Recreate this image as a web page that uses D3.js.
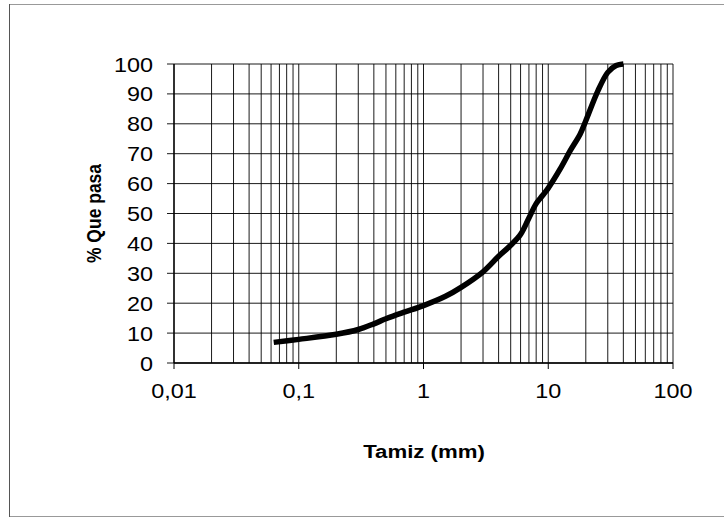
<!DOCTYPE html>
<html>
<head>
<meta charset="utf-8">
<script src="https://cdn.jsdelivr.net/npm/d3@7"></script>
<style>
  body { margin: 0; background: #fff; }
  svg { display: block; font-family: "Liberation Sans", Arial, sans-serif; }
</style>
</head>
<body>
<svg width="724" height="518"></svg>
<script>
// sieve opening (mm) and % passing
const sieve   = [0.063, 0.1, 0.2, 0.3, 0.4, 0.5, 0.7, 1, 1.5, 2, 3, 4, 5, 6, 7, 8, 9, 10, 12.5, 15, 18, 20, 25, 30, 35, 40];
const passing = [6.9, 7.9, 9.6, 11.2, 13.1, 14.8, 17, 19.2, 22.3, 25.3, 30.5, 35.7, 39.4, 43, 48.5, 53.3, 56, 58.5, 65, 71, 76.5, 81, 91, 97.2, 99.5, 100];

const xTicks = [0.01, 0.1, 1, 10, 100];
const xTickLabels = ['0,01', '0,1', '1', '10', '100'];
const yTicks = d3.range(0, 101, 10);

const svg = d3.select('svg');
const stretch = 1.2; // the reference text is a bit wide

const x = d3.scaleLog().domain([0.01, 100]).range([174, 673]);
const y = d3.scaleLinear().domain([0, 100]).range([363, 64]);

// outer frame
svg.append('line').attr('x1', 9.5).attr('x2', 724).attr('y1', 4.5).attr('y2', 4.5).attr('stroke', '#999');
svg.append('line').attr('x1', 9.5).attr('x2', 724).attr('y1', 516.5).attr('y2', 516.5).attr('stroke', '#999');
svg.append('line').attr('x1', 9.5).attr('x2', 9.5).attr('y1', 4).attr('y2', 517).attr('stroke', '#555');

// vertical grid: every 1..9 of each decade
let minor = [];
xTicks.slice(0, -1).forEach(d => {
  for (let k = 1; k < 10; k++) minor.push(d * k);
});
minor.push(100);

svg.append('g').selectAll('line')
  .data(minor)
  .join('line')
  .attr('x1', d => x(d)).attr('x2', d => x(d))
  .attr('y1', y(100)).attr('y2', y(0))
  .attr('stroke', '#000').attr('stroke-width', 0.9);

// horizontal grid
svg.append('g').selectAll('line')
  .data(yTicks)
  .join('line')
  .attr('x1', x(0.01) - 7).attr('x2', x(100))
  .attr('y1', d => y(d)).attr('y2', d => y(d))
  .attr('stroke', '#000').attr('stroke-width', 0.9);

// axes lines
svg.append('line').attr('x1', x(0.01)).attr('x2', x(0.01)).attr('y1', y(100)).attr('y2', y(0))
  .attr('stroke', '#000').attr('stroke-width', 1.3);
svg.append('line').attr('x1', x(0.01)).attr('x2', x(100)).attr('y1', y(0)).attr('y2', y(0))
  .attr('stroke', '#000').attr('stroke-width', 1.3);

// x ticks
svg.append('g').selectAll('line')
  .data(xTicks)
  .join('line')
  .attr('x1', d => x(d)).attr('x2', d => x(d))
  .attr('y1', y(0)).attr('y2', y(0) + 6)
  .attr('stroke', '#000');

// tick labels
svg.append('g').selectAll('text')
  .data(xTicks)
  .join('text')
  .attr('transform', d => `translate(${x(d)},398) scale(${stretch},1)`)
  .attr('text-anchor', 'middle')
  .attr('font-size', 19.5)
  .text((d, i) => xTickLabels[i]);

svg.append('g').selectAll('text')
  .data(yTicks)
  .join('text')
  .attr('transform', d => `translate(153,${y(d) + 7.5}) scale(${stretch},1)`)
  .attr('text-anchor', 'end')
  .attr('font-size', 19.5)
  .text(d => d);

// axis titles
svg.append('text')
  .attr('transform', `translate(424,458) scale(${stretch},1)`)
  .attr('text-anchor', 'middle')
  .attr('font-size', 18.5)
  .attr('font-weight', 'bold')
  .text('Tamiz (mm)');

svg.append('text')
  .attr('transform', 'translate(101,213.5) rotate(-90) scale(1,1.2)')
  .attr('text-anchor', 'middle')
  .attr('font-size', 17.5)
  .attr('font-weight', 'bold')
  .text('% Que pasa');

// grading curve
const line = d3.line()
  .x((d, i) => x(sieve[i]))
  .y(d => y(d))
  .curve(d3.curveCatmullRom.alpha(0.5));

svg.append('path')
  .attr('d', line(passing))
  .attr('fill', 'none')
  .attr('stroke', '#000')
  .attr('stroke-width', 5.5);
</script>
</body>
</html>
